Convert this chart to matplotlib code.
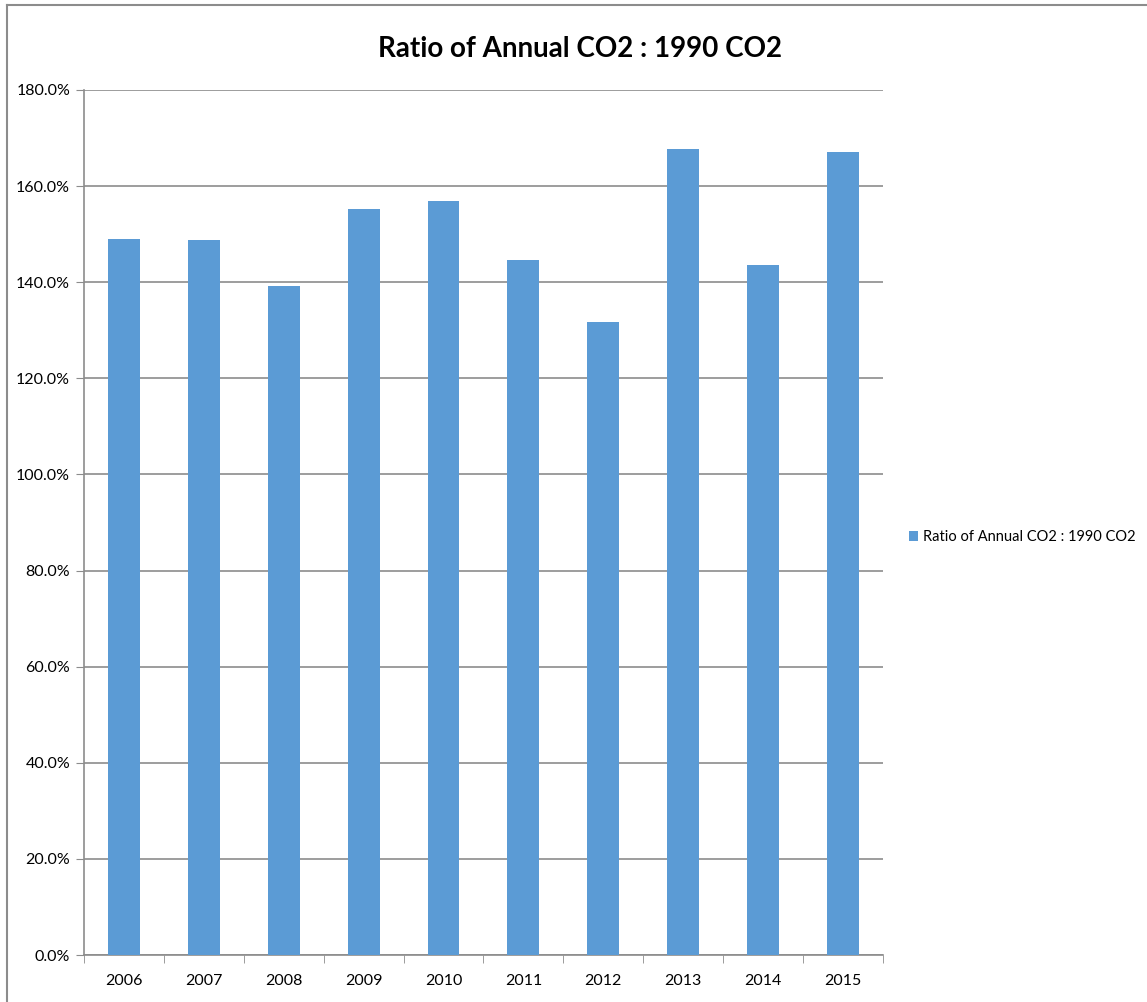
import matplotlib.pyplot as plt
from matplotlib.lines import Line2D
from matplotlib.ticker import FuncFormatter
import numpy as np

years = ['2006', '2007', '2008', '2009', '2010', '2011', '2012', '2013', '2014', '2015']
ratio = [149.0, 148.8, 139.2, 155.2, 156.9, 144.6, 131.7, 167.7, 143.6, 167.1]
series_name = 'Ratio of Annual CO2 : 1990 CO2'

plt.rcParams['font.family'] = ['Lato', 'DejaVu Sans']
grid_col = '#8c8c8c'
bar_col = '#5b9bd5'

fig = plt.figure(figsize=(11.47, 10.02), dpi=100)
ax = fig.add_axes([0.0732, 0.0469, 0.6966, 0.8633])

x = np.arange(len(years))
ax.bar(x, ratio, width=0.4, color=bar_col, label=series_name, zorder=3)

ax.set_xlim(-0.5, len(years) - 0.5)
ax.set_ylim(0, 180)
ax.set_yticks(np.arange(0, 181, 20))
ax.yaxis.set_major_formatter(FuncFormatter(lambda v, p: '{0:.1f}%'.format(v)))
ax.set_xticks(x)
ax.set_xticklabels(years)
ax.set_xticks(np.arange(-0.5, len(years), 1), minor=True)
ax.tick_params(axis='x', which='major', length=0, pad=14, labelsize=11.5)
ax.tick_params(axis='x', which='minor', length=6, color=grid_col, direction='out')
ax.tick_params(axis='y', length=6, color=grid_col, labelsize=11.5, pad=4)

ax.grid(axis='y', color=grid_col, linewidth=1.2, zorder=0)
for s in ['top', 'right']:
    ax.spines[s].set_visible(False)
for s in ['left', 'bottom']:
    ax.spines[s].set_color(grid_col)
    ax.spines[s].set_linewidth(1.2)

fig.text(0.506, 0.951, series_name, ha='center', va='center',
         fontsize=20, fontweight='bold')

ax.legend(loc='center left', bbox_to_anchor=(1.0, 0.483), frameon=False,
          fontsize=10.5, handlelength=0.6, handleheight=0.6, handletextpad=0.35,
          borderaxespad=1.4)

# outer frame lines of the screenshot
fig.add_artist(Line2D([7 / 1147, 7 / 1147], [0, 1 - 5 / 1002], color=grid_col,
                      linewidth=1.5, transform=fig.transFigure))
fig.add_artist(Line2D([7 / 1147, 1], [1 - 5 / 1002, 1 - 5 / 1002], color=grid_col,
                      linewidth=1.5, transform=fig.transFigure))

fig.savefig('out.png', dpi=100)
